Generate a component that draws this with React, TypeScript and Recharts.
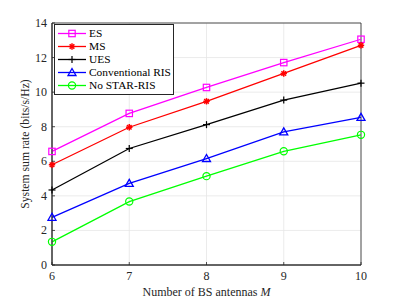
import React from 'react';
import {
  LineChart,
  Line,
  XAxis,
  YAxis,
  CartesianGrid,
  ReferenceArea,
} from 'recharts';

// number of BS antennas M
const antennas = [6, 7, 8, 9, 10];
const esRate = [6.57, 8.77, 10.27, 11.71, 13.06];
const msRate = [5.8, 7.97, 9.47, 11.08, 12.71];
const uesRate = [4.34, 6.74, 8.12, 9.54, 10.52];
const convRisRate = [2.76, 4.72, 6.16, 7.7, 8.54];
const noStarRisRate = [1.34, 3.67, 5.14, 6.58, 7.53];

const xTicks = [6, 7, 8, 9, 10];
const yTicks = [0, 2, 4, 6, 8, 10, 12, 14];

const FONT = '"Liberation Serif", "DejaVu Serif", serif';
const AXIS = '#262626';

const series = [
  { key: 'es', name: 'ES', color: '#ff00ff', marker: 'square' },
  { key: 'ms', name: 'MS', color: '#ff0000', marker: 'star' },
  { key: 'ues', name: 'UES', color: '#000000', marker: 'plus' },
  { key: 'conv', name: 'Conventional RIS', color: '#0000ff', marker: 'triangle' },
  { key: 'nostar', name: 'No STAR-RIS', color: '#00ff00', marker: 'circle' },
];

const data = antennas.map((m, i) => ({
  m,
  es: esRate[i],
  ms: msRate[i],
  ues: uesRate[i],
  conv: convRisRate[i],
  nostar: noStarRisRate[i],
}));

function Marker({ type, cx, cy, color }: { type: string; cx: number; cy: number; color: string }) {
  if (type === 'square')
    return <rect x={cx - 3.2} y={cy - 3.2} width={6.4} height={6.4} fill="none" stroke={color} strokeWidth={1.2} />;
  if (type === 'circle')
    return <circle cx={cx} cy={cy} r={3.6} fill="none" stroke={color} strokeWidth={1.2} />;
  if (type === 'triangle')
    return (
      <polygon
        points={`${cx},${cy - 4} ${cx - 4},${cy + 3} ${cx + 4},${cy + 3}`}
        fill="none"
        stroke={color}
        strokeWidth={1.3}
      />
    );
  if (type === 'plus')
    return (
      <g stroke={color} strokeWidth={1.2}>
        <line x1={cx - 3.5} y1={cy} x2={cx + 3.5} y2={cy} />
        <line x1={cx} y1={cy - 3.5} x2={cx} y2={cy + 3.5} />
      </g>
    );
  // asterisk
  return (
    <g stroke={color} strokeWidth={1.5}>
      <line x1={cx - 3.2} y1={cy} x2={cx + 3.2} y2={cy} />
      <line x1={cx} y1={cy - 3.2} x2={cx} y2={cy + 3.2} />
      <line x1={cx - 2.3} y1={cy - 2.3} x2={cx + 2.3} y2={cy + 2.3} />
      <line x1={cx - 2.3} y1={cy + 2.3} x2={cx + 2.3} y2={cy - 2.3} />
    </g>
  );
}

const makeDot = (type: string, color: string) => (props: any) => {
  const { cx, cy, index } = props;
  if (cx == null || cy == null) return <g key={index} />;
  return <Marker key={index} type={type} cx={cx} cy={cy} color={color} />;
};

const XTick = (props: any) => {
  const { x, y, payload } = props;
  return (
    <g>
      <line x1={x} y1={y - 4} x2={x} y2={y - 7} stroke={AXIS} strokeWidth={0.8} />
      <text x={x} y={y + 11} textAnchor="middle" fontFamily={FONT} fontSize={12} fill={AXIS}>
        {payload.value}
      </text>
    </g>
  );
};

const YTick = (props: any) => {
  const { x, y, payload } = props;
  return (
    <g>
      <line x1={x + 4} y1={y} x2={x + 7} y2={y} stroke={AXIS} strokeWidth={0.8} />
      <text x={x - 1} y={y + 4} textAnchor="end" fontFamily={FONT} fontSize={12} fill={AXIS}>
        {payload.value}
      </text>
    </g>
  );
};

function LegendBox() {
  return (
    <div
      style={{
        position: 'absolute',
        left: 54,
        top: 24,
        border: `1px solid ${AXIS}`,
        background: '#fff',
        padding: '2px 2px 2px 2px',
        fontFamily: FONT,
        fontSize: 11.4,
        color: '#000',
      }}
    >
      {series.map((s) => (
        <div key={s.key} style={{ display: 'flex', alignItems: 'center', height: 13 }}>
          <svg width={30} height={13} style={{ display: 'block' }}>
            <line x1={1} y1={6.5} x2={29} y2={6.5} stroke={s.color} strokeWidth={1.3} />
            <Marker type={s.marker} cx={15} cy={6.5} color={s.color} />
          </svg>
          <span style={{ marginLeft: 2, lineHeight: '13px', whiteSpace: 'nowrap' }}>{s.name}</span>
        </div>
      ))}
    </div>
  );
}

export default function App() {
  return (
    <div style={{ position: 'absolute', left: 0, top: 0, width: 399, height: 299, background: '#fff' }}>
      <LineChart width={399} height={299} data={data} margin={{ top: 23, right: 38, bottom: 0, left: 12 }}>
        <CartesianGrid stroke="#e6e6e6" strokeWidth={0.8} />
        <ReferenceArea x1={6} x2={10} y1={0} y2={14} fill="none" stroke={AXIS} strokeWidth={0.8} />
        <XAxis
          dataKey="m"
          type="number"
          domain={[6, 10]}
          ticks={xTicks}
          tick={<XTick />}
          tickLine={false}
          tickSize={0}
          tickMargin={4}
          stroke={AXIS}
          height={34}
          label={{
            value: 'Number of BS antennas  M',
            content: (p: any) => {
              const vb = p.viewBox;
              return (
                <text x={vb.x + vb.width / 2} y={296} textAnchor="middle" fontFamily={FONT} fontSize={12} fill={AXIS}>
                  Number of BS antennas{'  '}
                  <tspan fontStyle="italic">M</tspan>
                </text>
              );
            },
          }}
        />
        <YAxis
          type="number"
          domain={[0, 14]}
          ticks={yTicks}
          tick={<YTick />}
          tickLine={false}
          tickSize={0}
          tickMargin={4}
          stroke={AXIS}
          width={40}
          label={{
            value: 'System sum rate (bits/s/Hz)',
            content: (p: any) => {
              const vb = p.viewBox;
              const cy = vb.y + vb.height / 2;
              return (
                <text
                  x={29}
                  y={cy}
                  transform={`rotate(-90, 29, ${cy})`}
                  textAnchor="middle"
                  fontFamily={FONT}
                  fontSize={11.7}
                  fill={AXIS}
                >
                  System sum rate (bits/s/Hz)
                </text>
              );
            },
          }}
        />
        {series.map((s) => (
          <Line
            key={s.key}
            type="linear"
            dataKey={s.key}
            name={s.name}
            stroke={s.color}
            strokeWidth={1.3}
            dot={makeDot(s.marker, s.color)}
            activeDot={false}
            isAnimationActive={false}
          />
        ))}
      </LineChart>
      <LegendBox />
    </div>
  );
}
